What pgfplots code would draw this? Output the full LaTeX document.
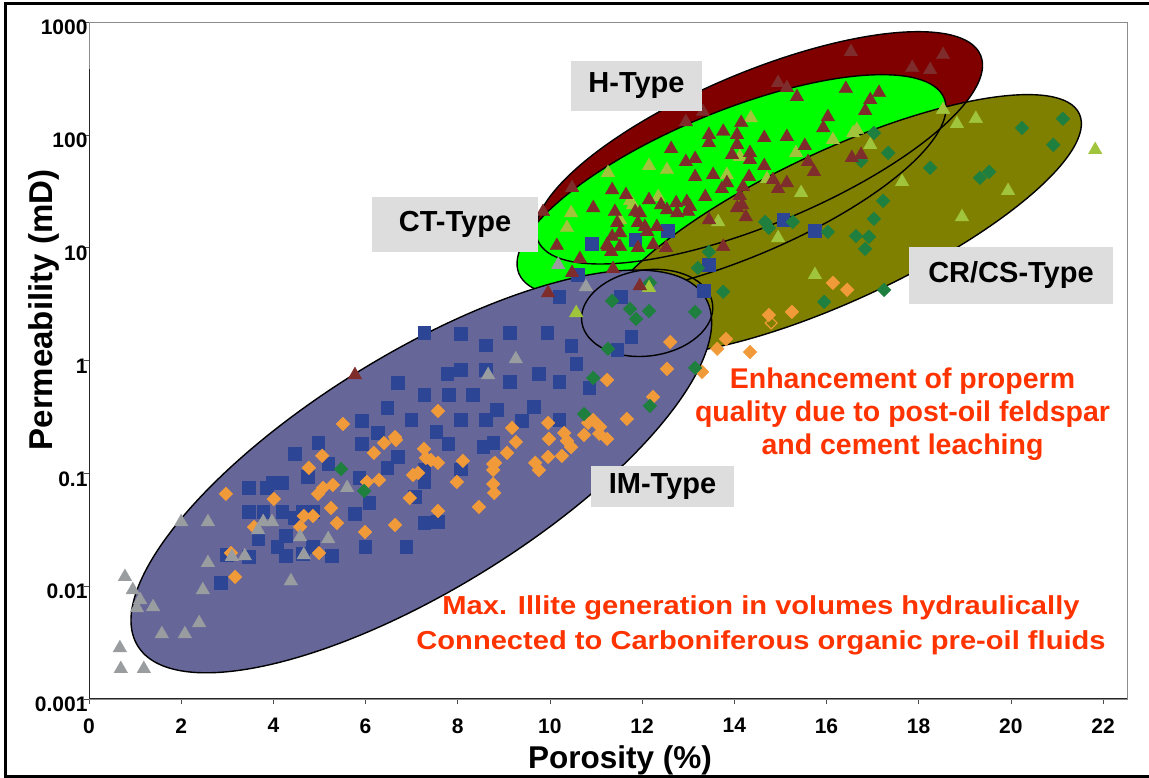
\documentclass[border=0pt]{standalone}
\usepackage{pgfplots}
\pgfplotsset{compat=1.18}
\usepackage{fontspec}
\setmainfont{Liberation Sans}
\usepackage{graphicx}

\definecolor{hred}{HTML}{800000}
\definecolor{ctgreen}{HTML}{00FF00}
\definecolor{crolive}{HTML}{808000}
\definecolor{imblue}{HTML}{666699}
\definecolor{boxgray}{HTML}{DDDDDD}
\definecolor{annot}{HTML}{FF3300}
\definecolor{mkred}{HTML}{7F2C2C}
\definecolor{mkyg}{HTML}{A0C43C}
\definecolor{mkgray}{HTML}{9A9DA0}
\definecolor{mkblue}{HTML}{2D4595}
\definecolor{mkorange}{HTML}{F09A3A}
\definecolor{mkgreen}{HTML}{1F7F3F}

\pgfplotsset{
  tri/.style={only marks, mark=triangle*, mark size=7.9pt, color=#1, mark options={solid, line width=0.3pt}},
  sq/.style={only marks, mark=square*, mark size=6.4pt, color=#1, mark options={solid, line width=0.3pt}},
  dia/.style={only marks, mark=square*, mark size=4.9pt, color=#1, mark options={solid, rotate=45, line width=0.3pt}},
}

\begin{document}
\begin{tikzpicture}
\useasboundingbox (0pt,0pt) rectangle (1149pt,778pt);
\begin{axis}[
  at={(89pt,79pt)}, anchor=south west,
  scale only axis, width=1038pt, height=677pt,
  xmin=0, xmax=22.52, ymode=log, ymin=0.001, ymax=1000,
  xtick={0,2,...,22}, xticklabels={0,2,4,6,8,10,12,14,16,18,20,22},
  ytick={0.001,0.01,0.1,1,10,100,1000},
  yticklabels={0.001,0.01,0.1,1,10,100,1000},
  yminorticks=false, xminorticks=false,
  tick align=outside, major tick length=5pt,
  tick pos=left,
  tick style={black!70, line width=0.6pt},
  axis line style={black!45, line width=0.8pt},
  /pgf/number format/assume math mode=true,
  tick label style={font=\fontsize{21}{25}\selectfont\bfseries},
  xticklabel style={yshift=-11pt},
  yticklabel style={xshift=7pt, yshift=-5.5pt},
  clip=false,
]
% ---- ellipse fills
\fill[hred, rotate around={22.7:(axis cs:14.54,76.7)}] (axis cs:14.54,76.7) ellipse [x radius=240pt, y radius=76pt];
\fill[ctgreen, rotate around={22.4:(axis cs:13.94,35.3)}] (axis cs:13.94,35.3) ellipse [x radius=230pt, y radius=74pt];
\fill[crolive, rotate around={24.9:(axis cs:16.29,15.9)}] (axis cs:16.29,15.9) ellipse [x radius=264pt, y radius=75pt];
% ---- outlines
\draw[black, line width=1.4pt, rotate around={22.7:(axis cs:14.54,76.7)}] (axis cs:14.54,76.7) ellipse [x radius=240pt, y radius=76pt];
\draw[black, line width=1.4pt, rotate around={22.4:(axis cs:13.94,35.3)}] (axis cs:13.94,35.3) ellipse [x radius=230pt, y radius=74pt];
\draw[black, line width=1.4pt, rotate around={24.9:(axis cs:16.29,15.9)}] (axis cs:16.29,15.9) ellipse [x radius=264pt, y radius=75pt];
% ---- IM ellipse
\filldraw[fill=imblue, draw=black, line width=1.4pt, rotate around={31.6:(axis cs:7.21,0.104)}] (axis cs:7.21,0.104) ellipse [x radius=333pt, y radius=118pt];
\draw[black, line width=1.4pt, rotate around={8:(axis cs:12.11,2.64)}] (axis cs:12.11,2.64) ellipse [x radius=66pt, y radius=43pt];

% ---- IM: blue squares
\addplot[sq=mkblue] coordinates {
(2.86,0.0107) (2.99,0.0189) (3.47,0.0743) (3.47,0.0455) (3.47,0.0182) (3.67,0.0262) (3.78,0.0455) (3.86,0.0743) (3.99,0.0822) (4.19,0.0822) (4.19,0.0455) (4.08,0.0223) (4.27,0.0279) (4.27,0.0185) (4.47,0.149) (4.47,0.0402) (4.64,0.0455) (4.75,0.0929) (4.86,0.0455) (4.86,0.0223) (4.97,0.186) (5.19,0.121) (5.27,0.0185) (5.92,0.292) (5.92,0.182) (6.27,0.228) (6.47,0.380) (6.47,0.112) (6.70,0.633) (5.86,0.0911) (6.08,0.0547) (5.77,0.0437) (5.99,0.0223) (6.70,0.140) (7.27,1.76) (8.07,1.72) (8.61,1.37) (7.77,0.761) (8.07,0.826) (8.61,0.826) (7.27,0.495) (7.81,0.495) (8.33,0.495) (6.99,0.297) (8.07,0.297) (8.61,0.297) (8.85,0.365) (7.53,0.233) (7.79,0.182) (8.55,0.171) (8.77,0.186) (7.27,0.109) (8.07,0.109) (7.27,0.0839) (7.07,0.0618) (7.27,0.0363) (7.57,0.0371) (6.88,0.0223) (4.64,0.0193) (10.20,3.66) (11.54,3.66) (13.34,4.14) (13.45,7.04) (9.13,1.76) (9.94,1.76) (10.46,1.35) (11.76,1.62) (11.46,1.24) (10.57,0.933) (9.76,0.761) (9.13,0.646) (10.20,0.646) (10.85,0.571) (9.65,0.388) (10.20,0.297) (9.39,0.292) (10.91,10.8) (11.85,11.7) (10.61,5.74) (12.56,14.1) (15.06,17.6) (15.75,14.1)
};
% ---- orange diamonds
\addplot[dia=mkorange] coordinates {
(2.97,0.0657) (3.08,0.0197) (3.17,0.0121) (3.58,0.0335) (4.01,0.0593) (4.77,0.112) (5.06,0.143) (4.97,0.0657) (5.08,0.0743) (5.29,0.0789) (5.25,0.0493) (5.38,0.0363) (4.66,0.0419) (4.86,0.0419) (4.58,0.0335) (4.99,0.0197) (5.51,0.274) (5.99,0.0302) (6.03,0.0839) (6.29,0.0873) (6.18,0.152) (6.40,0.186) (6.64,0.210) (6.64,0.0349) (7.57,0.357) (6.66,0.198) (7.27,0.165) (7.31,0.137) (7.42,0.131) (7.57,0.124) (8.11,0.129) (8.77,0.121) (7.03,0.0968) (7.14,0.101) (7.98,0.0839) (8.77,0.0805) (8.79,0.0670) (6.96,0.0605) (8.46,0.0504) (7.57,0.0464) (12.61,1.46) (12.54,0.843) (11.24,0.673) (12.24,0.476) (11.67,0.304) (10.94,0.297) (11.09,0.258) (10.83,0.280) (10.74,0.219) (11.07,0.224) (11.24,0.202) (10.31,0.228) (10.37,0.194) (10.46,0.171) (9.96,0.280) (9.98,0.202) (9.18,0.253) (9.26,0.190) (9.96,0.140) (10.26,0.143) (9.07,0.152) (9.68,0.124) (9.76,0.107) (8.81,0.124) (8.77,0.107) (13.30,0.793) (14.75,2.54) (15.25,2.70) (13.82,1.55) (13.63,1.27) (14.34,1.19) (16.14,4.88) (16.45,4.23)
};
\addplot[only marks, mark=square, mark size=4.2pt, color=mkorange, mark options={solid, rotate=45, line width=1.2pt}] coordinates {(14.80,2.15)};
% ---- green diamonds
\addplot[dia=mkgreen] coordinates {
(5.47,0.109) (5.97,0.0698) (11.35,3.38) (11.74,2.87) (12.15,2.75) (11.87,2.34) (13.15,2.70) (13.76,4.06) (11.26,1.27) (10.94,0.701) (10.74,0.336) (12.17,0.396) (13.15,0.860) (13.21,6.62) (13.45,9.18) (17.03,104) (17.34,69.2) (16.75,58.8) (17.23,26.0) (17.03,18.0) (16.64,12.7) (16.92,12.5) (16.84,9.76) (16.03,13.8) (14.67,16.9) (14.75,15.0) (15.27,16.9) (21.13,139) (20.24,115) (20.92,81.5) (18.25,51.0) (19.33,41.6) (19.53,47.0) (17.25,4.23) (15.95,3.31) (12.17,4.88)
};
% ---- gray triangles
\addplot[tri=mkgray] coordinates {
(0.78,0.0121) (0.95,0.00925) (1.11,0.00755) (1.04,0.00641) (1.39,0.00654) (0.67,0.00283) (0.69,0.00185) (1.19,0.00185) (1.58,0.00377) (2.08,0.00377) (2.39,0.00472) (2.47,0.00925) (2.58,0.0161) (2.00,0.0371) (2.58,0.0371) (3.10,0.0182) (3.38,0.0185) (3.78,0.0371) (3.97,0.0371) (3.67,0.0315) (4.38,0.0111) (4.58,0.0273) (4.66,0.0189) (5.19,0.0262) (5.60,0.0743) (8.66,0.745) (9.26,1.03) (10.18,7.04) (10.78,4.49)
};
% ---- yellow-green triangles
\addplot[tri=mkyg] coordinates {
(10.57,2.64) (12.15,4.40) (11.26,46.0) (12.15,53.1) (12.54,49.0) (10.46,20.3) (10.37,15.0) (12.35,28.2) (11.74,26.0) (11.52,17.6) (14.36,141) (16.66,111) (16.14,90.3) (16.95,81.5) (15.34,69.2) (13.84,44.2) (14.71,40.7) (15.45,30.6) (13.65,16.9) (14.95,12.2) (17.64,38.3) (15.75,5.74) (18.53,167) (18.83,125) (19.24,139) (21.83,73.6) (19.94,31.9) (18.94,18.7) (14.12,63.8) (11.80,23.9) (16.58,104)
};
% ---- dark red triangles
\addplot[tri=mkred] coordinates {
(5.77,0.745) (9.96,3.97) (11.95,4.58) (10.15,10.4) (10.65,7.96) (11.26,10.2) (11.52,10.2) (11.37,6.49) (12.52,9.96) (13.76,10.2) (10.48,5.98) (9.85,20.8) (10.48,33.9) (10.94,22.5) (11.35,32.5) (11.65,29.4) (11.41,20.8) (11.46,16.6) (11.35,12.5) (11.33,9.18) (11.85,20.8) (12.15,26.5) (12.41,23.9) (11.91,16.6) (12.11,13.8) (11.91,9.96) (12.32,15.3) (12.63,75.2) (12.95,57.6) (13.15,61.3) (13.15,42.4) (12.74,24.9) (12.97,25.5) (12.76,20.3) (12.24,10.6) (12.95,130) (13.00,20.8) (13.32,160) (11.95,20.3) (12.54,21.6) (12.06,15.3) (11.52,13.5) (11.24,10.6) (16.53,544) (14.95,289) (15.14,261) (15.36,217) (16.42,256) (17.14,236) (16.95,204) (16.84,163) (16.03,144) (15.93,115) (14.15,128) (13.76,107) (13.45,100) (13.45,84.9) (14.06,100) (14.06,81.5) (14.65,94) (15.14,96) (15.53,79.9) (13.95,66.5) (14.34,69.2) (14.34,60.0) (14.65,53.1) (15.60,57.6) (15.73,47.0) (13.54,44.2) (13.84,37.5) (13.73,33.2) (14.32,42.4) (14.19,34.6) (14.84,39.9) (15.14,37.5) (14.95,33.2) (13.37,28.2) (14.12,28.8) (14.17,23.9) (14.06,22.5) (14.25,18.7) (13.45,17.6) (16.55,62.5) (16.75,66.5) (13.04,23.0) (17.86,393) (18.25,377) (18.53,512)
};
% ---- dark spines left & bottom
\draw[black!85, line width=1pt] (rel axis cs:0,0.93) -- (rel axis cs:0,0) -- (rel axis cs:1,0);
\end{axis}

% ---- outer frame
\draw[line width=2.5pt] (1149pt,774.5pt) -- (5.5pt,774.5pt) -- (5.5pt,1.5pt) -- (1149pt,1.5pt);

% ---- type labels
\node[fill=boxgray, inner sep=0pt, minimum width=131pt, minimum height=50pt, font=\fontsize{29}{34}\selectfont\bfseries] at (636.5pt,692pt) {H-Type};
\node[fill=boxgray, inner sep=0pt, minimum width=166pt, minimum height=55pt, font=\fontsize{29}{34}\selectfont\bfseries] at (455pt,553.5pt) {CT-Type};
\node[fill=boxgray, inner sep=0pt, minimum width=204pt, minimum height=57pt, font=\fontsize{29}{34}\selectfont\bfseries] at (1011pt,502.5pt) {CR/CS-Type};
\node[fill=boxgray, inner sep=0pt, minimum width=143pt, minimum height=41pt, font=\fontsize{29}{34}\selectfont\bfseries] at (662.5pt,291.5pt) {IM-Type};

% ---- annotations
\node[text=annot, align=center, inner sep=0pt, font=\fontsize{28.5}{33}\selectfont\bfseries] at (902.5pt,364pt) {Enhancement of properm\\quality due to post-oil feldspar\\and cement leaching};
\node[text=annot, align=center, inner sep=0pt, font=\fontsize{26}{35}\selectfont\bfseries] at (761pt,152.5pt) {\scalebox{1.12}[1]{Max. Illite generation in volumes hydraulically}\\\scalebox{1.12}[1]{Connected to Carboniferous organic pre-oil fluids}};

% ---- axis labels
\node[anchor=base, inner sep=0pt, font=\fontsize{31.5}{36}\selectfont\bfseries] at (620pt,9pt) {Porosity (\%)};
\node[anchor=base, inner sep=0pt, rotate=90, font=\fontsize{33}{38}\selectfont\bfseries] at (52pt,468pt) {Permeability (mD)};
\end{tikzpicture}
\end{document}
